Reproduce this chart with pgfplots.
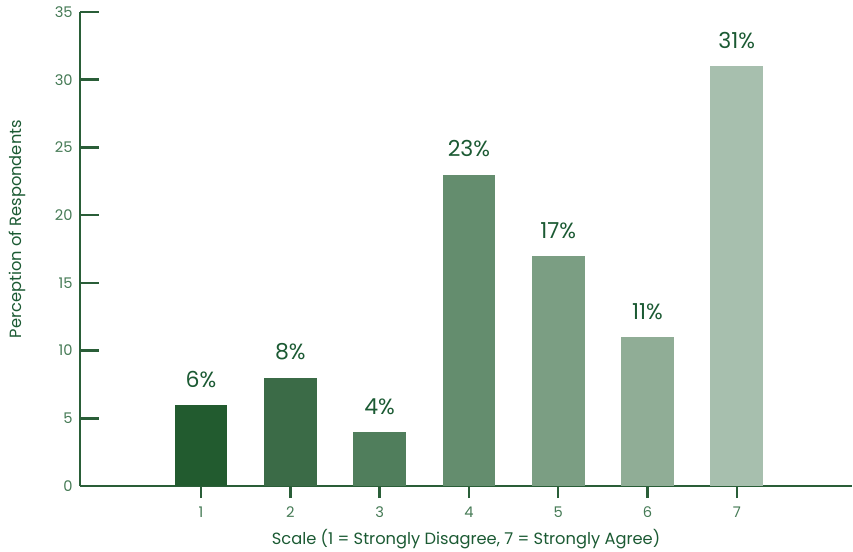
\documentclass[border=0pt]{standalone}
\usepackage{fontspec}
\setmainfont{Poppins}
\usepackage{pgfplots}
\pgfplotsset{compat=1.18}
\definecolor{axisc}{HTML}{2A5E38}
\definecolor{tickc}{HTML}{457A55}
\definecolor{labc}{HTML}{1B5A33}
\definecolor{c1}{HTML}{225B2F}
\definecolor{c2}{HTML}{3B6B47}
\definecolor{c3}{HTML}{507E5C}
\definecolor{c4}{HTML}{648D6E}
\definecolor{c5}{HTML}{7B9E83}
\definecolor{c6}{HTML}{90AD96}
\definecolor{c7}{HTML}{A7BFAE}
\begin{document}
\begin{tikzpicture}[x=0.75pt,y=0.75pt]
\useasboundingbox (-80,-65) rectangle (773,486);
\begin{axis}[
  at={(0,0)}, anchor=south west,
  scale only axis, width=579pt, height=355.5pt,
  xmin=-0.355, xmax=8.29, ymin=0, ymax=35,
  axis x line*=bottom, axis y line*=left,
  axis line style={axisc, line width=1.9pt},
  xtick={1,...,7}, ytick={0,5,...,35},
  tick align=inside,
  xtick style={axisc, line width=1.9pt, /pgfplots/major tick length=9pt, yshift=-9pt},
  ytick style={axisc, line width=1.9pt, /pgfplots/major tick length=14pt},
  /pgf/number format/assume math mode=true,
  tick label style={font=\fontsize{11}{13}\selectfont, text=tickc},
  xticklabel style={yshift=-12pt},
  yticklabel style={xshift=-2pt},
  xlabel={Scale (1 = Strongly Disagree, 7 = Strongly Agree)},
  ylabel={Perception of Respondents},
  label style={font=\fontsize{12.2}{14}\selectfont, text=labc},
  xlabel style={at={(rel axis cs:0.5,0)}, anchor=center, yshift=-40pt},
  ylabel style={at={(rel axis cs:0,0.542)}, anchor=center, yshift=47pt},
  nodes near coords={\pgfmathprintnumber{\pgfplotspointmeta}\%},
  every node near coord/.append style={font=\fontsize{16.5}{18}\selectfont, text=labc, anchor=base, inner sep=0pt, yshift=13.3pt},
  clip=false,
]
\addplot[ybar, bar shift=0pt, bar width=0.59, fill=c1, draw=none] coordinates {(1,6)};
\addplot[ybar, bar shift=0pt, bar width=0.59, fill=c2, draw=none] coordinates {(2,8)};
\addplot[ybar, bar shift=0pt, bar width=0.59, fill=c3, draw=none] coordinates {(3,4)};
\addplot[ybar, bar shift=0pt, bar width=0.59, fill=c4, draw=none] coordinates {(4,23)};
\addplot[ybar, bar shift=0pt, bar width=0.59, fill=c5, draw=none] coordinates {(5,17)};
\addplot[ybar, bar shift=0pt, bar width=0.59, fill=c6, draw=none] coordinates {(6,11)};
\addplot[ybar, bar shift=0pt, bar width=0.59, fill=c7, draw=none] coordinates {(7,31)};
\end{axis}
\end{tikzpicture}
\end{document}
